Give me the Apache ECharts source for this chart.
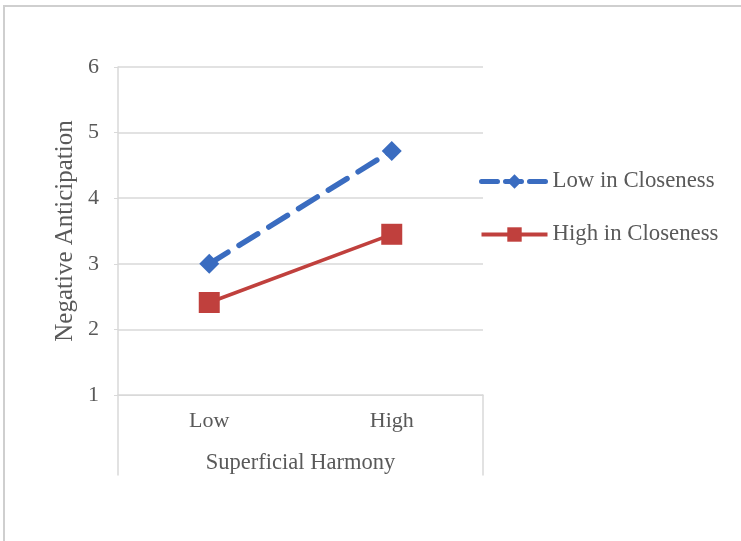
<!DOCTYPE html>
<html><head><meta charset="utf-8">
<script src="https://cdn.jsdelivr.net/npm/echarts@6/dist/echarts.min.js"></script>
<style>html,body{margin:0;padding:0;background:#fff}#c{width:741px;height:541px}</style>
</head><body><div id="c"></div>
<script>
const categories = ['Low', 'High'];
const lowCloseness = [3.0, 4.72];
const highCloseness = [2.41, 3.45];
const seriesNames = ['Low in Closeness', 'High in Closeness'];
const yTicks = [1, 6, 1]; // min, max, interval

const font = 'Liberation Serif';
const txt = '#595959';
const gridCol = '#d9d9d9';
const blue = '#3a6cc0';
const red = '#c0403d';
const chart = echarts.init(document.getElementById('c'));
chart.setOption({
  animation: false,
  backgroundColor: '#fff',
  graphic: [{
    type: 'rect', shape: {x: 4, y: 6, width: 900, height: 700},
    style: {fill: 'none', stroke: '#cfcfcf', lineWidth: 2}, silent: true
  }],
  grid: [
    {left: 118, right: 258, top: 67, bottom: 146},
    {left: 118, right: 258, top: 395, bottom: 66}
  ],
  legend: {
    orient: 'vertical', left: 474, top: 165,
    itemWidth: 66, itemHeight: 18, itemGap: 30,
    textStyle: {fontFamily: font, fontSize: 22.8, color: txt},
    data: [
      {name: seriesNames[0], lineStyle: {width: 5, type: [16, 8], color: blue}},
      {name: seriesNames[1], lineStyle: {width: 4, color: red}}
    ]
  },
  xAxis: [{
    type: 'category', data: categories, gridIndex: 0,
    boundaryGap: true,
    axisLine: {show: true, lineStyle: {color: gridCol, width: 1}},
    axisTick: {show: false},
    axisLabel: {fontFamily: font, fontSize: 22, color: txt, margin: 15},
    name: 'Superficial Harmony', nameLocation: 'middle', nameGap: 57,
    nameTextStyle: {fontFamily: font, fontSize: 22.5, color: txt}
  }, {
    type: 'category', data: categories, gridIndex: 1, show: false
  }],
  yAxis: [{
    type: 'value', gridIndex: 0, min: yTicks[0], max: yTicks[1], interval: yTicks[2],
    axisLine: {show: true, lineStyle: {color: gridCol, width: 1.5}},
    axisTick: {show: true, length: 4, lineStyle: {color: gridCol}},
    splitLine: {show: true, lineStyle: {color: gridCol, width: 1.5}},
    axisLabel: {fontFamily: font, fontSize: 22, color: txt, margin: 19},
    name: 'Negative Anticipation', nameLocation: 'middle', nameGap: 40, nameRotate: 90,
    nameTextStyle: {fontFamily: font, fontSize: 25, color: txt}
  }, {
    type: 'value', gridIndex: 1, position: 'left',
    axisLine: {show: true, lineStyle: {color: gridCol, width: 1.5}},
    axisTick: {show: false}, axisLabel: {show: false}, splitLine: {show: false}
  }, {
    type: 'value', gridIndex: 1, position: 'right',
    axisLine: {show: true, lineStyle: {color: gridCol, width: 1.5}},
    axisTick: {show: false}, axisLabel: {show: false}, splitLine: {show: false}
  }],
  series: [{
    name: seriesNames[0], type: 'line', xAxisIndex: 0, yAxisIndex: 0,
    data: lowCloseness,
    symbol: 'diamond', symbolSize: 20,
    lineStyle: {color: blue, width: 5.5, type: [22, 13], cap: 'round'},
    itemStyle: {color: blue}
  }, {
    name: seriesNames[1], type: 'line', xAxisIndex: 0, yAxisIndex: 0,
    data: highCloseness,
    symbol: 'rect', symbolSize: 21,
    lineStyle: {color: red, width: 3.5},
    itemStyle: {color: red}
  }]
});
</script></body></html>
